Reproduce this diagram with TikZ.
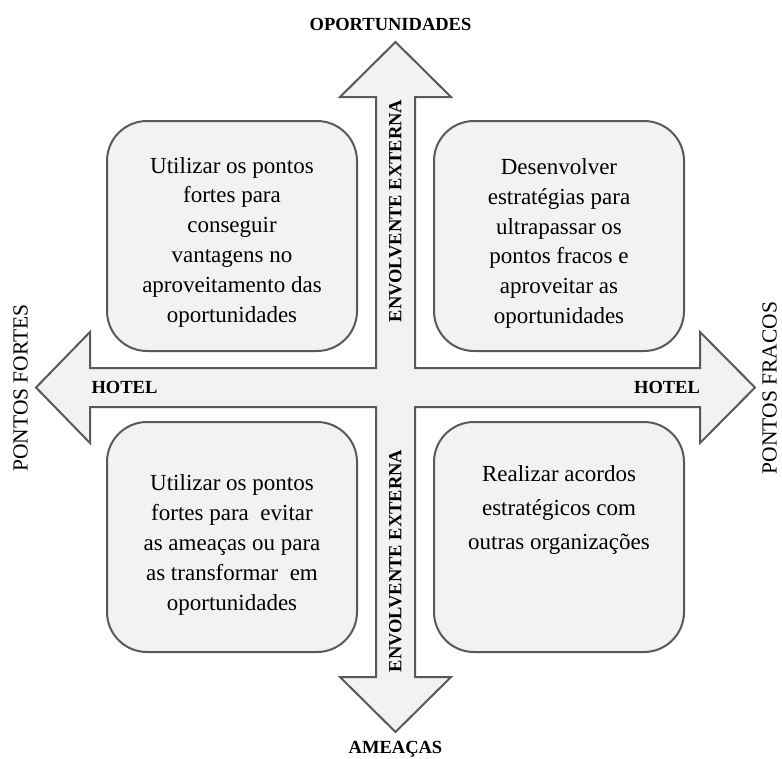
\documentclass[tikz,border=0pt]{standalone}
\usepackage{fontspec}
\setmainfont{Liberation Serif}
\definecolor{boxfill}{HTML}{F2F2F2}
\definecolor{boxline}{HTML}{595959}
\begin{document}
\begin{tikzpicture}[x=1pt,y=-1pt]
        \tikzstyle{quadrant}=[draw=boxline,line width=2pt,fill=boxfill,rounded corners=40pt,minimum width=250pt,minimum height=230pt,inner sep=0pt]
        \tikzstyle{quadtext}=[align=center,font=\fontsize{23}{29.8}\selectfont,inner sep=0pt]
        \tikzstyle{axis}=[font=\bfseries\fontsize{18.5}{20}\selectfont]
        \tikzstyle{side}=[font=\fontsize{21.5}{24}\selectfont,rotate=90,inner sep=0pt]
        \tikzstyle{env}=[font=\bfseries\fontsize{18.5}{20}\selectfont,rotate=90]
        \useasboundingbox (0,0) rectangle (782,758);
        % cruz central
        \path[draw=boxline,line width=2pt,fill=boxfill,line join=miter]
          (395.5,42) -- (451,97) -- (415,97) -- (415,368) -- (700,368) -- (700,332)
          -- (755,387.5) -- (700,443) -- (700,407) -- (415,407) -- (415,677) -- (451,677)
          -- (395.5,732) -- (340,677) -- (376,677) -- (376,407) -- (90,407) -- (90,443)
          -- (36,387.5) -- (90,332) -- (90,368) -- (376,368) -- (376,97) -- (340,97) -- cycle;
       \begin{scope}
         \node [quadrant] (so) at (232,236) {};
         \node [quadrant] (wo) at (559,236) {};
         \node [quadrant] (st) at (232,537) {};
         \node [quadrant] (wt) at (559,537) {};
         \node [quadtext] (sotext) at (232,242) {Utilizar os pontos\\fortes para\\conseguir\\vantagens no\\aproveitamento das\\oportunidades};
         \node [quadtext] (wotext) at (559,243.5) {Desenvolver\\estratégias para\\ultrapassar os\\pontos fracos e\\aproveitar as\\oportunidades};
         \node [quadtext] (sttext) at (232,545) {Utilizar os pontos\\fortes para\ \ evitar\\as ameaças ou para\\as transformar\ \ em\\oportunidades};
         \node [quadtext] (wttext) at (559,510) {Realizar acordos\\[4pt]estratégicos com\\[4pt]outras organizações};
        \end{scope}
         \node [axis,anchor=base] (op) at (390.5,30) {OPORTUNIDADES};
         \node [axis,anchor=base] (am) at (395.5,753) {AMEAÇAS};
         \node [axis,anchor=base] (hl) at (124.5,393) {HOTEL};
         \node [axis,anchor=base] (hr) at (667,393) {HOTEL};
         \node [side] (pf) at (20.5,388) {PONTOS FORTES};
         \node [side] (pw) at (769.5,388) {PONTOS FRACOS};
         \node [env] (eu) at (395.5,211) {ENVOLVENTE EXTERNA};
         \node [env] (ed) at (395.5,561) {ENVOLVENTE EXTERNA};
      \end{tikzpicture}
\end{document}
